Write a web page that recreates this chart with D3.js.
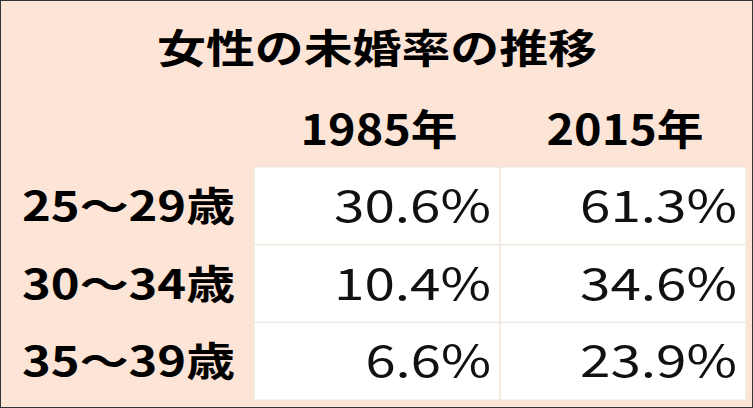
<!DOCTYPE html>
<html><head><meta charset="utf-8">
<script src="https://cdn.jsdelivr.net/npm/d3@7"></script>
<style>body{margin:0;background:#fff}</style>
</head><body><svg width="753" height="408"></svg>
<script>
const title = "女性の未婚率の推移";
const years = ["1985年", "2015年"];
const ages = ["25～29歳", "30～34歳", "35～39歳"];
const values1985 = [30.6, 10.4, 6.6];
const values2015 = [61.3, 34.6, 23.9];

const svg = d3.select("svg");
const font = "'Noto Sans CJK JP', 'Noto Sans', sans-serif";

svg.append("rect").attr("x", 0.5).attr("y", 0.5).attr("width", 752).attr("height", 407)
  .attr("fill", "#fce4d6").attr("stroke", "#333");

const x = d3.scaleBand().domain(years).range([254, 746]);
const y = d3.scaleBand().domain(ages).range([167, 400]);

svg.append("text").attr("x", 377).attr("y", 63).attr("text-anchor", "middle")
  .attr("font-family", font).attr("font-weight", "bold").attr("font-size", 40)
  .attr("textLength", 440).attr("lengthAdjust", "spacingAndGlyphs").text(title);

svg.selectAll(".yr").data(years).join("text")
  .attr("x", d => x(d) + x.bandwidth() / 2 + 2).attr("y", 145).attr("text-anchor", "middle")
  .attr("font-family", font).attr("font-weight", "bold").attr("font-size", 42)
  .attr("textLength", 157).attr("lengthAdjust", "spacingAndGlyphs").text(d => d);

svg.append("rect").attr("x", 254).attr("y", 167).attr("width", 492).attr("height", 233).attr("fill", "#fff");

const cells = [];
ages.forEach((a, i) => {
  cells.push({a, yr: years[0], v: values1985[i]});
  cells.push({a, yr: years[1], v: values2015[i]});
});
svg.selectAll(".cell").data(cells).join("rect")
  .attr("x", d => x(d.yr)).attr("y", d => y(d.a))
  .attr("width", x.bandwidth()).attr("height", y.bandwidth())
  .attr("fill", "none").attr("stroke", "#efe4da");

svg.selectAll(".age").data(ages).join("text")
  .attr("x", 22).attr("y", d => y(d) + y.bandwidth() / 2 + 15)
  .attr("font-family", font).attr("font-weight", "bold").attr("font-size", 40)
  .attr("textLength", 213).attr("lengthAdjust", "spacingAndGlyphs").text(d => d);

const fmt = d => d.v.toFixed(1) + "%";
svg.selectAll(".val").data(cells).join("text")
  .attr("x", d => x(d.yr) + x.bandwidth() - 9).attr("y", d => y(d.a) + y.bandwidth() / 2 + 16)
  .attr("text-anchor", "end").attr("font-family", font).attr("font-size", 44).attr("fill", "#111")
  .attr("textLength", d => fmt(d).length * 31.4).attr("lengthAdjust", "spacingAndGlyphs")
  .text(fmt);
</script></body></html>
